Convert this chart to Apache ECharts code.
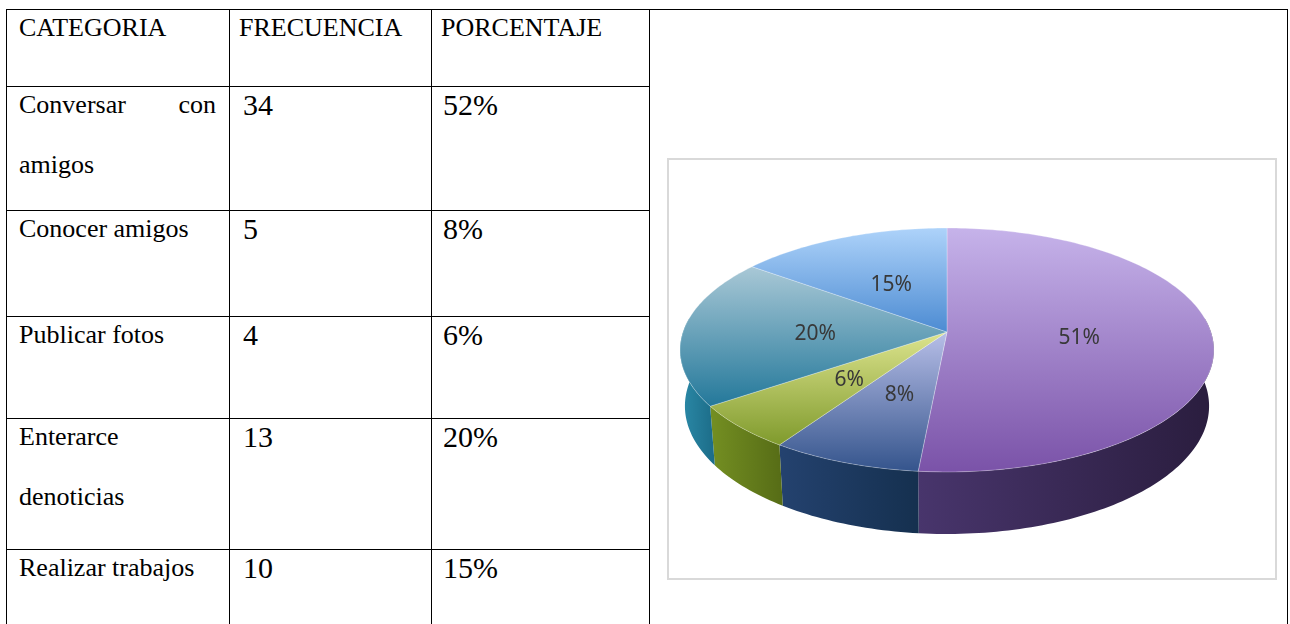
<!DOCTYPE html>
<html lang="es">
<head>
<meta charset="UTF-8" />
<title>Uso de redes sociales</title>
<script src="https://cdn.jsdelivr.net/npm/echarts@6/dist/echarts.min.js"></script>
<style>
    * { margin: 0; padding: 0; }
    body { width: 1290px; height: 624px; overflow: hidden; background: #fff; }
    #tabla {
        position: absolute; left: 6px; top: 9px;
        border-collapse: collapse; table-layout: fixed;
        font-family: "Liberation Serif", serif; color: #000;
    }
    #tabla td { border: 1.5px solid #000; vertical-align: top; font-size: 26px; line-height: 60px; }
    #tabla td div { position: relative; top: -12px; }
    #tabla td.cat { padding: 0 13px 0 12px; text-align: justify; }
    #tabla td.num { font-size: 30px; }
    #tabla td.c2 { padding-left: 13px; }
    #tabla td.c3 { padding-left: 11px; }
    #tabla td.h2 { padding-left: 9px; }
    #tabla td.h3 { padding-left: 9px; }
    #chart {
        position: absolute; left: 667px; top: 158px; width: 610px; height: 422px;
        border: 2px solid #d9d9d9; box-sizing: border-box; background: #fff;
    }
</style>
</head>
<body>
<table id="tabla">
    <colgroup><col style="width:223px"><col style="width:202px"><col style="width:218px"><col style="width:638px"></colgroup>
    <tbody></tbody>
</table>
<div id="chart"></div>
<script>
    const encabezados = ["CATEGORIA", "FRECUENCIA", "PORCENTAJE"];
    const categorias = ["Conversar con amigos", "Conocer amigos", "Publicar fotos", "Enterarce denoticias", "Realizar trabajos"];
    const frecuencia = [34, 5, 4, 13, 10];
    const porcentaje = [52, 8, 6, 20, 15];

    // alto de cada fila de la tabla (cabecera + 5 filas)
    const altoFilas = [77, 124, 106, 102, 131, 90];

    function armarTabla() {
        const tbody = document.querySelector("#tabla tbody");
        let html = `<tr style="height:${altoFilas[0]}px">`
            + `<td class="cat"><div>${encabezados[0]}</div></td>`
            + `<td class="h2"><div>${encabezados[1]}</div></td>`
            + `<td class="h3"><div>${encabezados[2]}</div></td>`
            + `<td rowspan="6"></td></tr>`;
        categorias.forEach((cat, i) => {
            html += `<tr style="height:${altoFilas[i + 1]}px">`
                + `<td class="cat"><div>${cat}</div></td>`
                + `<td class="num c2"><div>${frecuencia[i]}</div></td>`
                + `<td class="num c3"><div>${porcentaje[i]}%</div></td></tr>`;
        });
        tbody.innerHTML = html;
    }

    armarTabla();

    // colores tipo Office: cara superior (claro -> oscuro) y costado
    const colores = [
        { top: ["#c6b3ea", "#7a52a8"], side: ["#48356c", "#2a1d3e"] },
        { top: ["#b8bfe8", "#34548c"], side: ["#24426f", "#15304f"] },
        { top: ["#dde48e", "#7f9a2c"], side: ["#748f22", "#566c16"] },
        { top: ["#a9c8d6", "#23789a"], side: ["#2b8aa8", "#1c6c88"] },
        { top: ["#aed3fa", "#4c8bd2"], side: ["#4c8bd2", "#3a72b4"] },
    ];

    const total = porcentaje.reduce((a, b) => a + b, 0);
    const angulos = [];
    let acumulado = -Math.PI / 2;
    porcentaje.forEach((v) => {
        const a = (v / total) * Math.PI * 2;
        angulos.push([acumulado, acumulado + a]);
        acumulado += a;
    });

    // proyeccion en perspectiva de un disco inclinado
    const SEN = 0.452, COS = 0.892, DIST = 6.05, FOCO = 1597, ALTO = 0.24;
    const CX = 278, CY = 172;

    function proyectar(t, abajo, r) {
        const x = r * Math.cos(t), z = r * Math.sin(t), y = abajo ? -ALTO : 0;
        const ys = z * SEN - y * COS;
        const d = DIST - (z * COS + y * SEN);
        return [CX + (FOCO * x) / d, CY + (FOCO * ys) / d];
    }

    function arco(a0, a1, abajo) {
        const pts = [];
        const n = Math.max(2, Math.ceil((a1 - a0) / 0.02));
        for (let k = 0; k <= n; k++) pts.push(proyectar(a0 + ((a1 - a0) * k) / n, abajo, 1));
        return pts;
    }

    function renderItem(params, api) {
        const i = params.dataIndex;
        const [a0, a1] = angulos[i];
        const hijos = [];

        const lo = Math.max(a0, -0.12), hi = Math.min(a1, Math.PI + 0.12);
        if (hi > lo) {
            const pts = arco(lo, hi, false).concat(arco(lo, hi, true).reverse());
            hijos.push({
                type: "polygon",
                shape: { points: pts },
                z2: 1,
                style: {
                    fill: new echarts.graphic.LinearGradient(0, 0, 1, 0, [
                        { offset: 0, color: colores[i].side[0] },
                        { offset: 1, color: colores[i].side[1] },
                    ]),
                },
            });
        }

        const cara = [[CX, CY]].concat(arco(a0, a1, false));
        hijos.push({
            type: "polygon",
            shape: { points: cara },
            z2: 5,
            style: {
                fill: new echarts.graphic.LinearGradient(0, 0, 0, 1, [
                    { offset: 0, color: colores[i].top[0] },
                    { offset: 1, color: colores[i].top[1] },
                ]),
                stroke: "rgba(255,255,255,0.35)",
                lineWidth: 0.8,
            },
        });

        const medio = (a0 + a1) / 2;
        const p = proyectar(medio, false, 0.5);
        hijos.push({
            type: "text",
            z2: 10,
            style: {
                text: Math.round((api.value(0) / total) * 100) + "%",
                x: p[0],
                y: p[1] + 3,
                fill: "#383838",
                font: '21px "Noto Sans"',
                align: "center",
                verticalAlign: "middle",
            },
        });

        return { type: "group", children: hijos };
    }

    const myChart = echarts.init(document.getElementById("chart"));
    myChart.setOption({
        animation: false,
        series: [
            {
                type: "custom",
                coordinateSystem: "none",
                renderItem: renderItem,
                data: porcentaje.map((v, i) => ({ name: categorias[i], value: [v] })),
            },
        ],
    });
</script>
</body>
</html>
